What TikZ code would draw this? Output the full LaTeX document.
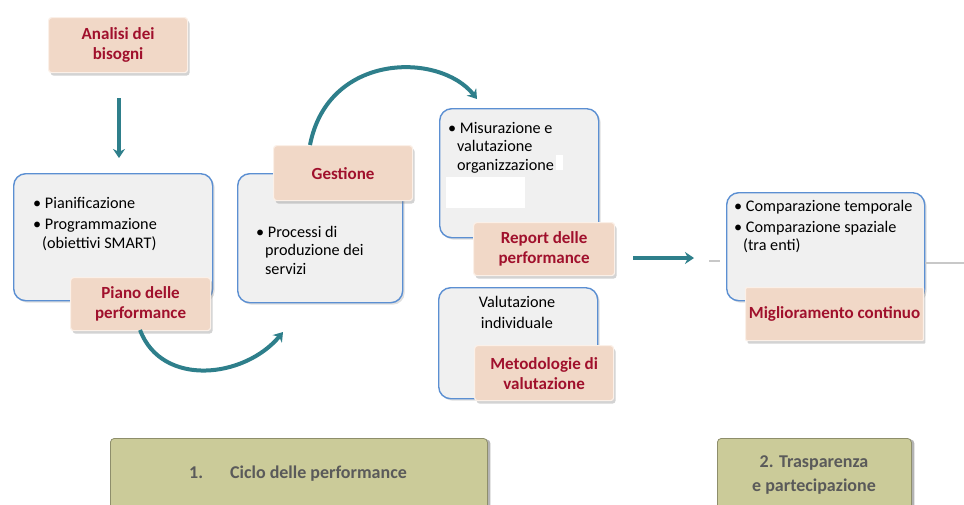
\documentclass[tikz,border=0pt]{standalone}
\usepackage{fontspec}
\setmainfont{Carlito}
\usetikzlibrary{shadows,arrows.meta}
\definecolor{peach}{HTML}{F1D8C7}
\definecolor{peachedge}{HTML}{FBF0E8}
\definecolor{redtxt}{HTML}{A0102C}
\definecolor{panel}{HTML}{F0F0F0}
\definecolor{panelline}{HTML}{5B8FD2}
\definecolor{teal}{HTML}{2E7F8B}
\definecolor{olive}{HTML}{CBCB99}
\definecolor{olivetxt}{HTML}{5A5A5A}
\definecolor{greyline}{HTML}{C8C8C8}
\tikzset{
  x=1pt,y=-1pt,
  panelbox/.style={draw=panelline,line width=1.4pt,fill=panel,rounded corners=12pt,
    drop shadow={shadow xshift=2pt,shadow yshift=-2pt,opacity=0.25}},
  labelbox/.style={draw=peachedge,line width=1.2pt,fill=peach,rounded corners=3pt,
    font=\fontsize{17}{20}\selectfont\bfseries,text=redtxt,align=center,
    drop shadow={shadow xshift=2pt,shadow yshift=-3pt,opacity=0.35}},
  bodytext/.style={font=\fontsize{16.2}{18.5}\selectfont,text=black,align=left,inner sep=0pt},
  footbox/.style={draw=olive!70!black,line width=0.8pt,fill=olive,rounded corners=4pt,
    drop shadow={shadow xshift=3pt,shadow yshift=-1pt,opacity=0.6}},
  foottext/.style={font=\fontsize{18}{24}\selectfont\bfseries,text=olivetxt,align=center},
  tealarrow/.style={draw=teal,line width=4pt,-{Stealth[length=9pt,width=12pt]}},
}
\begin{document}
\begin{tikzpicture}
\useasboundingbox (0,0) rectangle (964,504);

% panels
\node[panelbox,minimum width=199pt,minimum height=127pt,anchor=north west] (p1) at (13,173) {};
\node[panelbox,minimum width=165pt,minimum height=129pt,anchor=north west] (p2) at (237,173) {};
\node[panelbox,minimum width=159pt,minimum height=129pt,anchor=north west] (p3) at (439,108) {};
\node[panelbox,minimum width=159pt,minimum height=111pt,anchor=north west] (p4) at (438,287) {};
\node[panelbox,minimum width=198pt,minimum height=108pt,anchor=north west] (p5) at (726,192) {};

% panel texts
\node[bodytext,anchor=north west] (t1) at (33,197.5) {\textbullet\ Pianificazione\\[2.5pt]\textbullet\ Programmazione\\\hspace*{0.55em}(obiettivi SMART)};
\node[bodytext,anchor=north west] (t2) at (256,226) {\textbullet\ Processi di\\\hspace*{0.55em}produzione dei\\\hspace*{0.55em}servizi};
\node[bodytext,anchor=north west] (t3) at (448,122) {\textbullet\ Misurazione e\\\hspace*{0.55em}valutazione\\\hspace*{0.55em}organizzazione};
\node[bodytext,align=center,anchor=north,font=\fontsize{16.2}{21}\selectfont] (t4) at (517,296) {Valutazione\\individuale};
\node[bodytext,anchor=north west] (t5) at (734,200) {\textbullet\ Comparazione temporale\\[2.5pt]\textbullet\ Comparazione spaziale\\\hspace*{0.55em}(tra enti)};

% white patches in panel 3
\fill[white] (446,177) rectangle (525,208);
\fill[white] (556,155) rectangle (563,170);

% label boxes
\node[labelbox,minimum width=139pt,minimum height=55pt,anchor=north west] (analisi) at (48,17) {Analisi dei\\bisogni};
\node[labelbox,minimum width=140pt,minimum height=53pt,anchor=north west] (piano) at (70,277) {Piano delle\\performance};
\node[labelbox,minimum width=139pt,minimum height=55pt,anchor=north west] (gestione) at (273,145) {Gestione};
\node[labelbox,minimum width=141pt,minimum height=53pt,anchor=north west] (report) at (473,222) {Report delle\\performance};
\node[labelbox,minimum width=139pt,minimum height=55pt,anchor=north west] (metod) at (474,345) {Metodologie di\\valutazione};
\node[labelbox,minimum width=176pt,minimum height=53pt,anchor=north west,rounded corners=1pt] (miglio) at (745,287) {Miglioramento continuo};

% footer boxes
\node[footbox,minimum width=377pt,minimum height=80pt,anchor=north west] (f1) at (110,438) {};
\node[foottext,anchor=center] (f1t) at (298,474) {1.\hspace{1.5em}Ciclo delle performance};
\node[footbox,minimum width=194pt,minimum height=80pt,anchor=north west] (f2) at (717,438) {};
\node[foottext,anchor=north] (f2t) at (814,452) {2. Trasparenza\\e partecipazione};

% connectors
\coordinate (a1s) at (119,98);
\coordinate (a1e) at (119,158);
\draw[tealarrow] (a1s) -- (a1e);

\coordinate (c1s) at (140,330);
\coordinate (c1e) at (283,332);
\draw[tealarrow] (c1s) .. controls (162,388) and (245,378) .. (c1e);

\coordinate (c2s) at (310,145);
\coordinate (c2e) at (477,99);
\draw[tealarrow] (c2s) .. controls (328,52) and (440,52) .. (c2e);

\coordinate (a2s) at (633,258);
\coordinate (a2e) at (694,258);
\draw[tealarrow] (a2s) -- (a2e);

\coordinate (g1s) at (709,261);
\coordinate (g1e) at (720,261);
\draw[greyline,line width=1.2pt] (g1s) -- (g1e);
\draw[greyline,line width=1.2pt] (p5.east |- 0,263) -- (964,263);
\end{tikzpicture}
\end{document}
